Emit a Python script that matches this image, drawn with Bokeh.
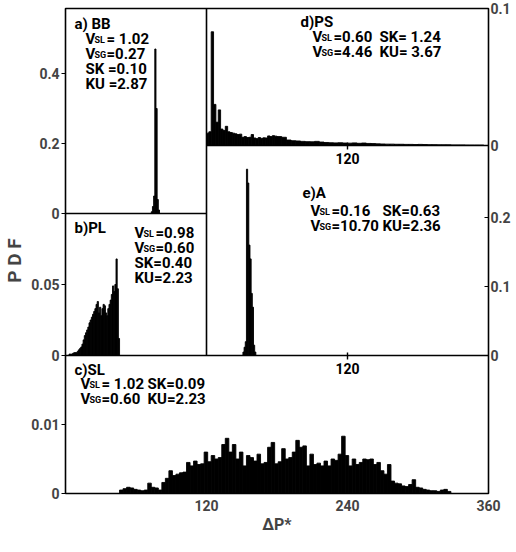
import numpy as np
from bokeh.plotting import figure
from bokeh.models import Range1d, LinearAxis, FixedTicker, ColumnDataSource
from bokeh.embed import file_html
from bokeh.resources import INLINE
from bokeh.core.properties import value

# ---------------- data ----------------
# histogram bins: start, bin width (in dP* units), PDF values
a_start, a_width = 73, 1
a_pdf = [0.005, 0.02, 0.05, 0.47, 0.30, 0.04, 0.01]

b_start, b_width = 3, 1
b_pdf = [0.001, 0.001, 0.001, 0.0015, 0.002, 0.002, 0.002, 0.003, 0.004, 0.005,
         0.006, 0.008, 0.011, 0.014, 0.016, 0.018, 0.020, 0.023, 0.025, 0.027,
         0.029, 0.031, 0.033, 0.036, 0.038, 0.030, 0.034, 0.028, 0.033, 0.036,
         0.035, 0.030, 0.028, 0.033, 0.036, 0.039, 0.043, 0.049, 0.045, 0.050,
         0.068, 0.047, 0.012]

c_start, c_width = 46, 3
c_pdf_milli = [0.5, 0.7, 0.9, 0.8, 0.6, 0.5, 0.4, 0.5, 1.5, 0.9,
               0.8, 0.5, 1.6, 2.2, 3.3, 2.6, 2.8, 3.0, 3.1, 4.5,
               4.0, 4.7, 4.2, 4.3, 6.0, 4.6, 5.5, 5.0, 5.2, 7.1,
               8.0, 6.0, 7.1, 5.0, 6.0, 4.0, 5.5, 5.2, 4.7, 5.7,
               4.3, 4.5, 6.7, 7.4, 4.3, 4.6, 6.5, 5.0, 5.2, 6.0,
               7.7, 6.7, 6.9, 4.0, 5.7, 4.2, 4.4, 4.0, 4.7, 4.0,
               5.0, 4.8, 5.7, 8.3, 5.5, 4.0, 5.0, 4.2, 4.5, 5.0,
               4.9, 5.0, 4.2, 4.5, 3.3, 2.8, 4.2, 1.8, 1.5, 1.4,
               1.1, 1.0, 1.3, 2.0, 0.9, 0.8, 0.6, 0.5, 0.4, 0.4,
               0.3, 0.5, 0.6, 0.3]

d_head_start, d_head_width = 0, 2
d_head_pdf = [0.009, 0.010, 0.083, 0.030, 0.017, 0.026, 0.012, 0.011, 0.014, 0.010,
              0.0095, 0.009, 0.0085, 0.008, 0.0083, 0.006, 0.0065, 0.0058, 0.006, 0.008,
              0.0055, 0.005, 0.0058, 0.0052, 0.0056, 0.0055, 0.007, 0.0065, 0.0072, 0.0068]
d_tail_start, d_tail_width = 60, 4
d_tail_pdf = [0.0065, 0.006, 0.004, 0.0035, 0.0033, 0.003, 0.0028, 0.0027, 0.003, 0.0025,
              0.0022, 0.002, 0.0019, 0.002, 0.0018, 0.0017, 0.0019, 0.0016, 0.0018, 0.0015,
              0.0014, 0.0012, 0.0011, 0.001, 0.001, 0.0009, 0.0009, 0.0008, 0.0008, 0.0007,
              0.0008, 0.0007, 0.0006, 0.0006, 0.0005, 0.0005, 0.0005, 0.0004, 0.0004, 0.0004,
              0.0003, 0.0003, 0.0003, 0.0003]

e_start, e_width = 31, 1
e_pdf = [0.005, 0.012, 0.02, 0.27, 0.25, 0.16, 0.14, 0.09, 0.07, 0.015, 0.005]

# tick values and labels
left_ticks = {"a": [0, 0.2, 0.4], "b": [0, 0.05], "c": [0, 0.01]}
left_labels = {"a": ["0", "0.2", "0.4"], "b": ["0", "0.05"], "c": ["0", "0.01"]}
right_ticks = {"d": [0, 0.1], "e": [0, 0.1, 0.2]}
right_labels = {"d": ["0", "0.1"], "e": ["0", "0.1", "0.2"]}
x_ticks_c = [120, 240, 360]
x_ticks_de = [120]

titles = {"a": "a) BB", "b": "b)PL", "c": "c)SL", "d": "d)PS", "e": "e)A"}
vsl = {"a": "= 1.02", "b": "=0.98", "c": "= 1.02", "d": "=0.60", "e": " =0.16"}
vsg = {"a": "=0.27", "b": "=0.60", "c": "=0.60", "d": "=4.46", "e": "=10.70"}
sk = {"a": "SK =0.10", "b": "SK=0.40", "c": "SK=0.09", "d": "SK= 1.24", "e": "SK=0.63"}
ku = {"a": "KU =2.87", "b": "KU=2.23", "c": "KU=2.23", "d": "KU= 3.67", "e": "KU=2.36"}

# ---------------- layout (page pixel geometry) ----------------
FL, FR, FT, FB = 68, 491, 16, 501          # frame edges on the page
FW, FH = FR - FL, FB - FT
COL_X = 209                                # split between left and right columns
AB_Y, DE_Y, C_Y = 221, 153, 363            # horizontal splits

def lx(px):
    return px - FL

def ly(py):
    return FB - py

# per panel: page y of zero, page y of a reference value, that value
panel_scale = {"a": (AB_Y, 151, 0.2), "b": (C_Y, 292, 0.05), "c": (FB, 432, 0.01),
               "d": (DE_Y, FT, 0.1), "e": (C_Y, 294, 0.1)}

FONT = "Roboto"
STYLE = "bold"

p = figure(frame_width=FW, frame_height=FH, output_backend="svg", toolbar_location=None,
           x_range=Range1d(0, FW), y_range=Range1d(0, FH),
           x_axis_location=None, y_axis_location=None,
           min_border_left=FL - 8, min_border_right=24, min_border_top=FT - 8,
           min_border_bottom=43)
p.background_fill_color = "white"
p.border_fill_color = "white"
p.outline_line_color = "black"
p.outline_line_width = 1.6
p.xgrid.visible = False
p.ygrid.visible = False

p.extra_x_ranges = {"abc": Range1d(0, 360), "de": Range1d(-120, 240)}
extra_y = {}
for k, (zero, refy, refv) in panel_scale.items():
    ppu = (zero - refy) / refv
    extra_y[k] = Range1d(-ly(zero) / ppu, (zero - FT) / ppu)
p.extra_y_ranges = extra_y

def ypos(k, v):
    zero, refy, refv = panel_scale[k]
    return int(round(ly(zero) + v * (zero - refy) / refv))

def hist(start, width, vals, xr, yr, scale=1.0):
    vals = np.asarray(vals, dtype=float) * scale
    left = start + width * np.arange(len(vals))
    src = ColumnDataSource(dict(left=left, right=left + width, top=vals))
    p.quad(left="left", right="right", bottom=0, top="top", source=src,
           x_range_name=xr, y_range_name=yr,
           fill_color="black", line_color="black", line_width=0.9)

hist(a_start, a_width, a_pdf, "abc", "a")
hist(b_start, b_width, b_pdf, "abc", "b")
hist(c_start, c_width, c_pdf_milli, "abc", "c", scale=1e-3)
hist(d_head_start, d_head_width, d_head_pdf, "de", "d")
hist(d_tail_start, d_tail_width, d_tail_pdf, "de", "d")
hist(e_start, e_width, e_pdf, "de", "e")

# internal panel borders
p.segment(x0=[0, lx(COL_X), lx(COL_X), 0], y0=[ly(AB_Y), ly(C_Y), ly(DE_Y), ly(C_Y)],
          x1=[lx(COL_X), lx(COL_X), FW, FW], y1=[ly(AB_Y), ly(FT), ly(DE_Y), ly(C_Y)],
          line_color="black", line_width=1.6)

# inner x ticks (120) for panels d and e
for zero_y in [DE_Y, C_Y]:
    yb = ly(zero_y)
    p.segment(x0=x_ticks_de, x1=x_ticks_de, y0=[yb - 4] * len(x_ticks_de), y1=[yb + 3] * len(x_ticks_de),
              x_range_name="de", line_color="black", line_width=1.4)
    p.text(x=x_ticks_de, y=[yb - 7] * len(x_ticks_de), text=[str(t) for t in x_ticks_de],
           x_range_name="de", text_align="center", text_baseline="top",
           text_font=value(FONT), text_font_size="14px", text_font_style=STYLE,
           text_color="black")

# bottom axis (panel c)
xax = LinearAxis(x_range_name="abc", ticker=FixedTicker(ticks=x_ticks_c),
                 axis_label="ΔP*")
xax.axis_line_color = None
xax.major_tick_in = 4
xax.major_tick_out = 0
xax.minor_tick_line_color = None
xax.major_label_standoff = 6
xax.major_label_text_font = FONT
xax.major_label_text_font_size = "14px"
xax.major_label_text_font_style = STYLE
xax.axis_label_text_font = FONT
xax.axis_label_text_font_size = "16px"
xax.axis_label_text_font_style = STYLE
xax.axis_label_standoff = 1
p.add_layout(xax, "below")

# left axis (panels a, b, c)
lt, lo = [], {}
for k in ["a", "b", "c"]:
    for v, lab in zip(left_ticks[k], left_labels[k]):
        pos = ypos(k, v)
        lt.append(pos)
        lo[pos] = lab
yl = LinearAxis(ticker=FixedTicker(ticks=lt), major_label_overrides=lo, axis_label="P   D   F")
yl.axis_line_color = None
yl.major_tick_in = 0
yl.major_tick_out = 4
yl.minor_tick_line_color = None
yl.major_label_standoff = 2
yl.major_label_text_font = FONT
yl.major_label_text_font_size = "14px"
yl.major_label_text_font_style = STYLE
yl.axis_label_text_font = FONT
yl.axis_label_text_font_size = "19px"
yl.axis_label_text_font_style = STYLE
yl.axis_label_standoff = 2
p.add_layout(yl, "left")

# right axis (panels d, e)
rt, ro = [], {}
for k in ["d", "e"]:
    for v, lab in zip(right_ticks[k], right_labels[k]):
        pos = ypos(k, v)
        rt.append(pos)
        ro[pos] = lab
yr = LinearAxis(ticker=FixedTicker(ticks=rt), major_label_overrides=ro)
yr.axis_line_color = None
yr.major_tick_in = 4
yr.major_tick_out = 0
yr.minor_tick_line_color = None
yr.major_label_standoff = 2
yr.major_label_text_font = FONT
yr.major_label_text_font_size = "14px"
yr.major_label_text_font_style = STYLE
p.add_layout(yr, "right")

# ---------------- annotations ----------------
pieces = dict(x=[], y=[], text=[], xo=[], yo=[], size=[])

def put(px, py, txt, xo=0, yo=0, size="15px"):
    pieces["x"].append(lx(px))
    pieces["y"].append(ly(py))
    pieces["text"].append(txt)
    pieces["xo"].append(xo)
    pieces["yo"].append(yo)
    pieces["size"].append(size)

def put_v(px, py, sub, rest):
    put(px, py, "V")
    put(px, py, sub, xo=9, yo=1, size="9px")
    put(px, py, rest, xo=21)

for k, (tx, ty, x0, y0) in {"a": (77, 31, 88, 46), "b": (77, 235, 137, 240)}.items():
    put(tx, ty, titles[k])
    put_v(x0, y0, "SL", vsl[k])
    put_v(x0, y0 + 15, "SG", vsg[k])
    put(x0, y0 + 30, sk[k])
    put(x0, y0 + 45, ku[k])

for k, (tx, ty, x0, x1, y0) in {"c": (77, 377, 83, 150, 391),
                                 "d": (303, 29, 315, 382, 44),
                                 "e": (305, 200, 313, 385, 218)}.items():
    put(tx, ty, titles[k])
    put_v(x0, y0, "SL", vsl[k])
    put(x1, y0, sk[k])
    put_v(x0, y0 + 15, "SG", vsg[k])
    put(x1, y0 + 15, ku[k])

p.text(x="x", y="y", text="text", x_offset="xo", y_offset="yo", text_font_size="size",
       source=ColumnDataSource(pieces), text_font=value(FONT), text_font_style=STYLE,
       text_color="black", text_align="left", text_baseline="alphabetic")

open("out.html", "w").write(file_html(p, INLINE))
